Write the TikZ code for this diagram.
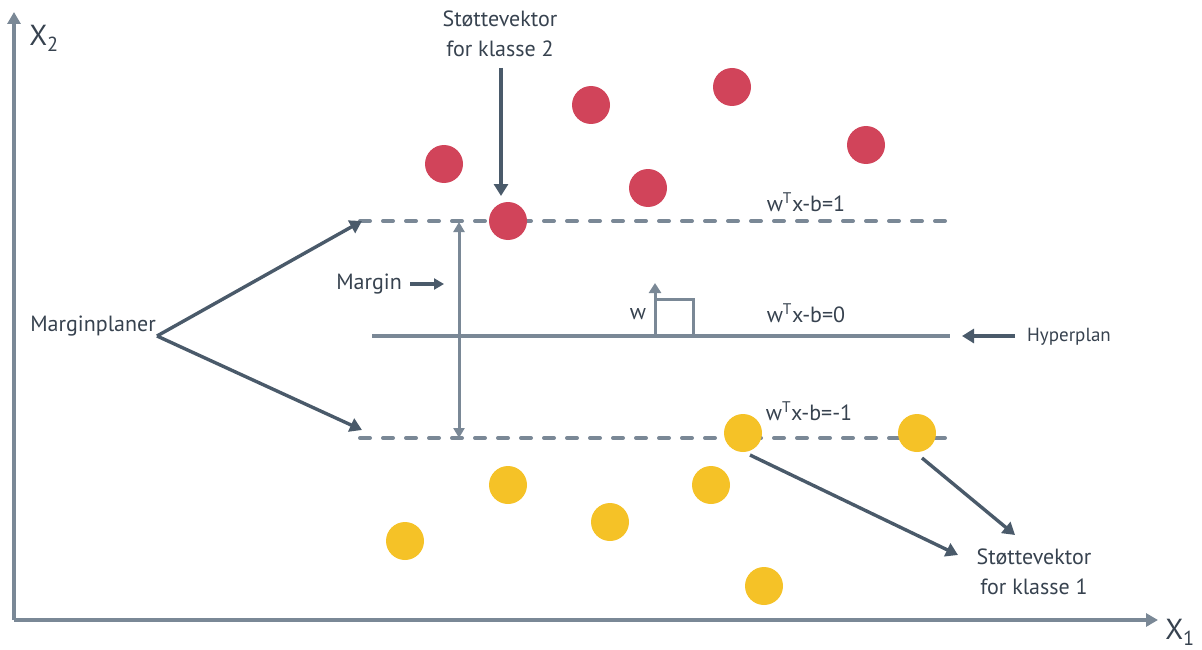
\documentclass[tikz,border=0pt]{standalone}
\usepackage{fontspec}
\setmainfont{PT Sans}
\usetikzlibrary{arrows.meta}
\definecolor{axisgray}{HTML}{7A8896}
\definecolor{darkarrow}{HTML}{4A5A6A}
\definecolor{txt}{HTML}{37424F}
\definecolor{redpt}{HTML}{D1445A}
\definecolor{yellowpt}{HTML}{F5C227}
\tikzset{
  axis/.style={axisgray, line width=3.2pt, -{Triangle[length=12pt,width=13pt]}},
  plane/.style={axisgray, line width=4pt},
  dashplane/.style={plane, line cap=round, dash pattern=on 10pt off 13pt},
  pointer/.style={darkarrow, line width=3.4pt, -{Triangle[length=12pt,width=14pt]}},
  marginarrow/.style={axisgray, line width=3pt, {Triangle[length=10pt,width=11pt]}-{Triangle[length=10pt,width=11pt]}},
  lbl/.style={text=txt, font=\fontsize{22}{30}\selectfont, align=center, inner sep=0pt},
  small/.style={text=txt, font=\fontsize{19}{22}\selectfont, inner sep=0pt},
  big/.style={text=txt, font=\fontsize{29}{30}\selectfont, inner sep=0pt},
  redc/.style={circle, fill=redpt, minimum size=38pt, inner sep=0pt},
  yelc/.style={circle, fill=yellowpt, minimum size=38pt, inner sep=0pt},
}
\begin{document}
\begin{tikzpicture}[x=1pt, y=-1pt]
\useasboundingbox (0,0) rectangle (1202,650);

% axes
\coordinate (origin) at (14,620);
\coordinate (ytop) at (14,12);
\coordinate (xend) at (1158,620);
\draw[axis] (origin) -- (ytop);
\draw[axis] (origin) -- (xend);
\node[big] (x2) at (44,38) {X\textsubscript{2}};
\node[big] (x1) at (1180,632) {X\textsubscript{1}};

% margin planes and hyperplane
\coordinate (upL) at (360,221);
\coordinate (upR) at (950,221);
\coordinate (hpL) at (372,336);
\coordinate (hpR) at (950,336);
\coordinate (loL) at (360,438);
\coordinate (loR) at (950,438);
\draw[dashplane] (upL) -- (upR);
\draw[plane] (hpL) -- (hpR);
\draw[dashplane] (loL) -- (loR);

% normal vector w with right-angle box
\coordinate (wbase) at (655,336);
\coordinate (wtip) at (655,283);
\draw[axisgray, line width=3pt, -{Triangle[length=10pt,width=12pt]}] (wbase) -- (wtip);
\draw[axisgray, line width=3pt] (655,299) -- (693,299) -- (693,336);
\node[lbl] (wlbl) at (638,314) {w};

% plane equations
\node[lbl] (eq1) at (806,202) {w\textsuperscript{T}x-b=1};
\node[lbl] (eq0) at (806,313) {w\textsuperscript{T}x-b=0};
\node[lbl] (eqm1) at (809,411) {w\textsuperscript{T}x-b=-1};

% margin width
\coordinate (mtop) at (459,222);
\coordinate (mbot) at (459,438);
\draw[marginarrow] (mbot) -- (mtop);
\node[lbl, anchor=east] (margin) at (402,284) {Margin};
\coordinate (mstart) at (410,284);
\coordinate (marrow) at (444,284);
\draw[darkarrow, line width=3.4pt, -{Triangle[length=10pt,width=11pt]}] (mstart) -- (marrow);

% Marginplaner
\node[lbl, anchor=east] (mplaner) at (156,326) {Marginplaner};
\coordinate (mp) at (157,336);
\coordinate (mptop) at (362,221);
\coordinate (mpbot) at (362,430);
\draw[pointer] (mp) -- (mptop);
\draw[pointer] (mp) -- (mpbot);

% Hyperplan
\node[small, anchor=west] (hyper) at (1027,337) {Hyperplan};
\coordinate (hystart) at (1015,336);
\coordinate (hyarrow) at (962,336);
\draw[pointer] (hystart) -- (hyarrow);

% class 2 points
\node[redc] (r1) at (444,164) {};
\node[redc] (r2) at (591,105) {};
\node[redc] (r3) at (732,87) {};
\node[redc] (r4) at (866,145) {};
\node[redc] (r5) at (648,188) {};
\node[redc] (sv2) at (508,221) {};

% class 1 points
\node[yelc] (sv1a) at (743,433) {};
\node[yelc] (sv1b) at (917,433) {};
\node[yelc] (y1) at (508,485) {};
\node[yelc] (y2) at (711,485) {};
\node[yelc] (y3) at (610,522) {};
\node[yelc] (y4) at (405,541) {};
\node[yelc] (y5) at (764,586) {};

% support vector labels and pointers
\node[lbl] (sv2lbl) at (500,34) {Støttevektor\\for klasse 2};
\coordinate (sv2from) at (501,68);
\coordinate (sv2to) at (501,196);
\draw[pointer] (sv2from) -- (sv2to);

\node[lbl] (sv1lbl) at (1034,572) {Støttevektor\\for klasse 1};
\coordinate (sv1afrom) at (750,455);
\coordinate (sv1ato) at (958,555);
\coordinate (sv1bfrom) at (922,458);
\coordinate (sv1bto) at (1015,535);
\draw[pointer] (sv1afrom) -- (sv1ato);
\draw[pointer] (sv1bfrom) -- (sv1bto);
\end{tikzpicture}
\end{document}
